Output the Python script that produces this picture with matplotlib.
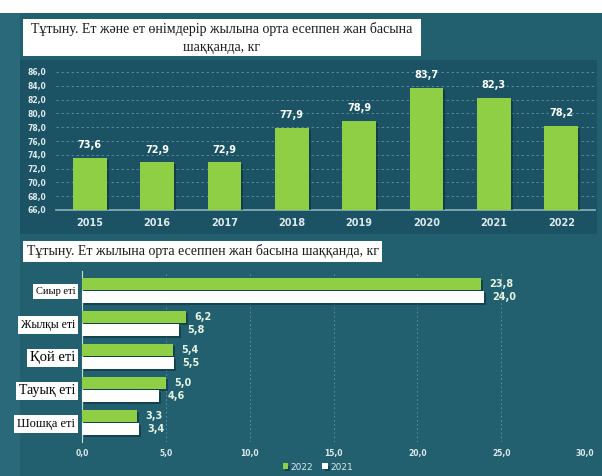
import matplotlib.pyplot as plt
import matplotlib.patheffects as pe
from matplotlib.patches import Rectangle
import numpy as np

# Annual meat consumption per capita, kg
years = ['2015', '2016', '2017', '2018', '2019', '2020', '2021', '2022']
total_meat = [73.6, 72.9, 72.9, 77.9, 78.9, 83.7, 82.3, 78.2]

# Consumption by type of meat, kg
meat_types = ['Сиыр еті', 'Жылқы еті', 'Қой еті', 'Тауық еті', 'Шошқа еті']
values_2022 = [23.8, 6.2, 5.4, 5.0, 3.3]
values_2021 = [24.0, 5.8, 5.5, 4.6, 3.4]

title_top = 'Тұтыну. Ет және ет өнімдерір жылына орта есеппен жан басына\nшаққанда, кг'
title_bottom = 'Тұтыну. Ет жылына орта есеппен жан басына шаққанда, кг'

W, H = 602, 476
BG = '#22606f'
PANEL = '#1b5365'
GREEN = '#8fcf45'
TXT = '#dce8ea'


def box(x0, y0, x1, y1):
    # pixel box (top-left origin) -> figure fraction rect
    return [x0 / W, 1 - y1 / H, (x1 - x0) / W, (y1 - y0) / H]


def fmt(v):
    return f'{v:.1f}'.replace('.', ',')


fig = plt.figure(figsize=(W / 100, H / 100), dpi=100, facecolor='white')

# background
for rect, col in [(box(0, 13, W, H), BG), (box(0, 13, 20, H), '#29697a'),
                  (box(20, 60, 597, 234), PANEL)]:
    fig.patches.append(Rectangle(rect[:2], rect[2], rect[3], transform=fig.transFigure,
                                 facecolor=col, edgecolor='none', zorder=-5))

shadow = [pe.SimplePatchShadow(offset=(1.5, -1.5), shadow_rgbFace='#0b2f38', alpha=0.6), pe.Normal()]

# --- top chart ---
ax1 = fig.add_axes(box(56, 72, 595, 210))
ax1.set_facecolor('none')
x = np.arange(len(years))
bars = ax1.bar(x, total_meat, width=0.5, color=GREEN, bottom=0, zorder=3)
for b in bars:
    b.set_path_effects(shadow)
ax1.set_ylim(66, 86)
ax1.set_xlim(-0.5, len(years) - 0.5)
ax1.set_yticks(np.arange(66, 87, 2))
ax1.set_yticklabels([fmt(v) for v in np.arange(66, 87, 2)], fontsize=5.5,
                    color=TXT, fontweight='bold')
ax1.set_xticks(x)
ax1.set_xticklabels(years, fontsize=7, color=TXT, fontweight='bold')
ax1.tick_params(length=0, pad=6)
ax1.tick_params(axis='y', pad=7)
ax1.grid(axis='y', color='#7fa9b3', linestyle=(0, (3, 3)), linewidth=0.6, alpha=0.7)
for s in ['top', 'right', 'left']:
    ax1.spines[s].set_visible(False)
ax1.spines['bottom'].set_color('#8fb4bd')
ax1.spines['bottom'].set_linewidth(1.2)
for xi, v in zip(x, total_meat):
    ax1.annotate(fmt(v), (xi, v), xytext=(0, 9), textcoords='offset points',
                 ha='center', va='center', fontsize=7, color='white', fontweight='bold')

# --- bottom chart ---
ax2 = fig.add_axes(box(82, 271, 585, 442))
ax2.set_facecolor('none')
y = np.arange(len(meat_types))
h = 0.36
b22 = ax2.barh(y - 0.195, values_2022, height=h, color=GREEN, label='2022', zorder=3)
b21 = ax2.barh(y + 0.195, values_2021, height=h, color='white', label='2021', zorder=3)
for b in list(b22) + list(b21):
    b.set_path_effects(shadow)
ax2.set_xlim(0, 30)
ax2.set_ylim(len(meat_types) - 0.4, -0.6)
ax2.set_xticks(np.arange(0, 31, 5))
ax2.set_xticklabels([fmt(v) for v in np.arange(0, 31, 5)], fontsize=5.5,
                    color=TXT, fontweight='bold')
ax2.set_yticks(y)
ax2.set_yticklabels(meat_types, family='Liberation Serif', color='black')
for lab, fs in zip(ax2.get_yticklabels(), [7.5, 8.5, 10.5, 10, 9]):
    lab.set_fontsize(fs)
    lab.set_bbox(dict(facecolor='white', edgecolor='none', pad=2))
ax2.tick_params(length=0)
ax2.tick_params(axis='x', pad=5)
ax2.tick_params(axis='y', pad=5)
ax2.grid(axis='x', color='#7fa9b3', linestyle=(0, (2, 3)), linewidth=0.6, alpha=0.7)
for s in ['top', 'right', 'bottom']:
    ax2.spines[s].set_visible(False)
ax2.spines['left'].set_color('#c8dade')
ax2.spines['left'].set_linewidth(0.8)
for yi, v in zip(y - 0.195, values_2022):
    ax2.annotate(fmt(v), (v, yi), xytext=(6, 0), textcoords='offset points',
                 ha='left', va='center', fontsize=7, color='#e6f2e0', fontweight='bold')
for yi, v in zip(y + 0.195, values_2021):
    ax2.annotate(fmt(v), (v, yi), xytext=(6, 0), textcoords='offset points',
                 ha='left', va='center', fontsize=7, color='#e6f2e0', fontweight='bold')

leg = ax2.legend(loc='center', bbox_to_anchor=(318 / W, 1 - 467 / H),
                 bbox_transform=fig.transFigure, ncol=2, frameon=False,
                 fontsize=6.5, handlelength=0.6, handleheight=0.6,
                 handletextpad=0.3, columnspacing=1.0, labelcolor=TXT)

# titles in white boxes
for rect in [box(23, 19, 421, 56), box(23, 241, 382, 262)]:
    fig.patches.append(Rectangle(rect[:2], rect[2], rect[3], transform=fig.transFigure,
                                 facecolor='white', edgecolor='none', zorder=-1))
fig.text(222 / W, 1 - 38 / H, title_top, ha='center', va='center',
         family='Liberation Serif', fontsize=10, color='#1a1a1a', linespacing=1.45)
fig.text(203 / W, 1 - 251.5 / H, title_bottom, ha='center', va='center',
         family='Liberation Serif', fontsize=10, color='#1a1a1a')

fig.savefig('out.png', dpi=100, facecolor=fig.get_facecolor())
